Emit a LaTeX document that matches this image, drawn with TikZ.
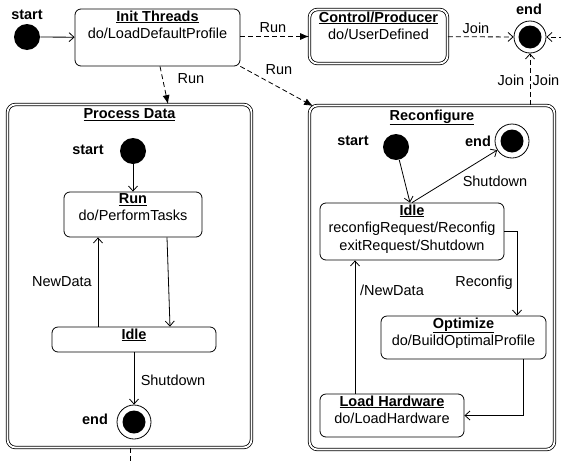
\documentclass[tikz,border=0pt]{standalone}
\usepackage{fontspec}
\setmainfont{Liberation Sans}
\usetikzlibrary{arrows.meta}
\begin{document}
\begin{tikzpicture}[x=1pt,y=-1pt, font=\fontsize{14.5}{17.5}\selectfont, line width=0.8pt,
 st/.style={draw, rounded corners=6pt, inner sep=0pt},
 cmp/.style={draw, rounded corners=8pt, double=white, double distance=1.8pt, inner sep=0pt},
 ttl/.style={anchor=north, align=center, inner sep=0pt},
 initst/.style={circle, fill=black, minimum size=26pt, inner sep=0pt},
 fin/.style={circle, draw, fill=white, minimum size=32pt, inner sep=0pt,
   path picture={\fill[black] (path picture bounding box.center) circle[radius=11.5pt];}},
 tr/.style={-{Straight Barb[length=5pt,width=9pt]}},
 dtr/.style={tr, dash pattern=on 5pt off 3pt},
 drun/.style={-{Latex[length=9pt,width=7pt]}, dash pattern=on 5pt off 3pt},
 lbl/.style={inner sep=0pt},
 bl/.style={font=\fontsize{14.5}{17.5}\selectfont\bfseries, inner sep=0pt}
]
\useasboundingbox (0,0) rectangle (561,463);
\clip (0,0) rectangle (561,463);

% top level
\node[initst] (s0) at (27,37) {};
\node[bl] (s0l) at (27,15) {start};
\node[st, minimum width=165pt, minimum height=57pt] (init) at (157.5,37.5) {};
\node[ttl] (initt) at ([yshift=-1.5pt]init.north) {\textbf{\underline{Init Threads}}\\do/LoadDefaultProfile};
\node[cmp, minimum width=138pt, minimum height=54pt] (ctrl) at (378.5,36.5) {};
\node[ttl] (ctrlt) at ([yshift=-2pt]ctrl.north) {\textbf{\underline{Control/Producer}}\\do/UserDefined};
\node[fin] (e0) at (530,37) {};
\node[bl] (e0l) at (529,9) {end};

% Process Data
\node[cmp, minimum width=244pt, minimum height=343pt] (pd) at (129.5,276) {};
\node[ttl] (pdt) at ([yshift=-4pt]pd.north) {\textbf{\underline{Process Data}}};
\node[initst] (ps) at (133,151) {};
\node[bl] (psl) at (88,150) {start};
\node[st, minimum width=138pt, minimum height=45pt] (run) at (133,214.5) {};
\node[ttl] (runt) at ([yshift=-1.5pt]run.north) {\textbf{\underline{Run}}\\do/PerformTasks};
\node[st, minimum width=164pt, minimum height=25pt] (pidle) at (134,339.5) {};
\node[ttl] (pidlet) at ([yshift=-1.5pt]pidle.north) {\textbf{\underline{Idle}}};
\node[fin, minimum size=34pt] (pe) at (134,422) {};
\node[bl] (pel) at (95,419) {end};

% Reconfigure
\node[cmp, minimum width=245pt, minimum height=344pt] (rec) at (432,277.5) {};
\node[ttl] (rect) at ([yshift=-4pt]rec.north) {\textbf{\underline{Reconfigure}}};
\node[initst] (rs) at (396,147) {};
\node[bl] (rsl) at (353,141) {start};
\node[fin, minimum size=34pt] (re) at (512,141) {};
\node[bl] (rel) at (478,141) {end};
\node[st, minimum width=184pt, minimum height=57pt] (ridle) at (412,231.5) {};
\node[ttl] (ridlet) at ([yshift=-1.5pt]ridle.north) {\textbf{\underline{Idle}}\\reconfigRequest/Reconfig\\exitRequest/Shutdown};
\node[st, minimum width=165pt, minimum height=43pt] (opt) at (463.5,337.5) {};
\node[ttl] (optt) at ([yshift=-1.5pt]opt.north) {\textbf{\underline{Optimize}}\\do/BuildOptimalProfile};
\node[st, minimum width=144pt, minimum height=43pt] (lh) at (392,415.5) {};
\node[ttl] (lht) at ([yshift=-1.5pt]lh.north) {\textbf{\underline{Load Hardware}}\\do/LoadHardware};

% off-canvas ends
\coordinate (rin) at (580,37);
\coordinate (pout) at (130,480);

% top-level transitions
\draw[tr] (s0) -- (init);
\draw[drun] (init.east |- ctrl) -- (ctrl);
\node[lbl] at (273,28) {Run};
\draw[dtr] (ctrl) -- (e0);
\node[lbl] at (476,28) {Join};
\draw[dtr] (e0 |- rec.north) -- (e0);
\node[lbl] at (511,80) {Join};
\node[lbl] at (546,80) {Join};
\draw[dtr] (rin) -- (e0);
\draw[drun] ([xshift=2.5pt]init.south) -- ([xshift=38.5pt]pd.north);
\node[lbl] at (191,79) {Run};
\draw[drun] (init.south east) -- ([xshift=4pt,yshift=-1pt]rec.north west);
\node[lbl] at (279,70) {Run};
\draw[dash pattern=on 5pt off 3pt] ([xshift=0.5pt]pd.south) -- (pout);

% Process Data transitions
\draw[tr] (ps) -- (run);
\draw[tr] ([xshift=34pt]run.south) -- ([xshift=36pt]pidle.north);
\draw[tr] ([xshift=-36pt]pidle.north) -- ([xshift=-35pt]run.south);
\node[lbl] at (62,282) {NewData};
\draw[tr] (pidle) -- (pe);
\node[lbl] at (173,380) {Shutdown};

% Reconfigure transitions
\draw[tr] (rs) -- ([xshift=-2pt]ridle.north);
\draw[tr] (ridle.north) -- (re);
\node[lbl] at (495,181) {Shutdown};
\draw[tr] (ridle.east) -| ([xshift=53.5pt]opt.north);
\node[lbl] at (484,283) {Reconfig};
\draw[tr] ([xshift=59.5pt]opt.south) |- (lh.east);
\draw[tr] ([xshift=-37pt]lh.north) -- ([xshift=-37pt]lh.north |- ridle.south);
\node[lbl] at (392,290) {/NewData};
\end{tikzpicture}
\end{document}
